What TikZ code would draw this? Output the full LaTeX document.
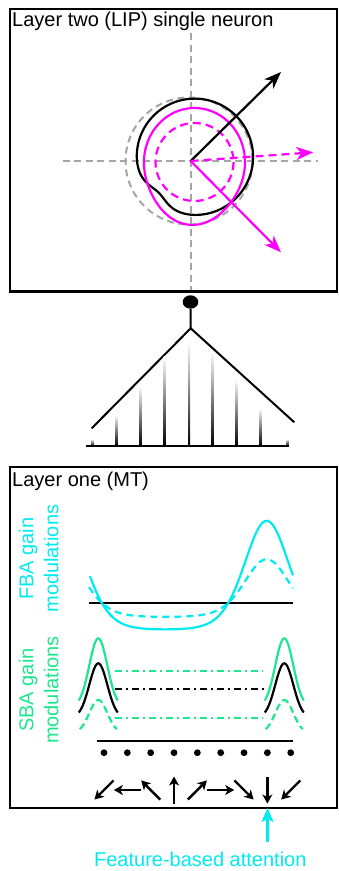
\documentclass[tikz,border=0pt]{standalone}
\usepackage{fontspec}
\setmainfont{Liberation Sans}
\usetikzlibrary{arrows.meta,shapes.geometric}
\definecolor{Magenta}{HTML}{FF00FF}
\definecolor{Cyan}{HTML}{00EBF0}
\definecolor{Mint}{HTML}{1EE68C}
\definecolor{Grey}{HTML}{A5A5A5}
\tikzset{
  panel/.style={draw=black, line width=2.4pt},
  curve/.style={line width=2.2pt},
  axisline/.style={draw=Grey, line width=2pt, dash pattern=on 7pt off 4.5pt},
  bigarr/.style={-{Stealth[length=17pt,width=13pt,inset=5pt]}, line width=2.2pt},
  dirarr/.style={-{Stealth[length=9pt,width=10pt,inset=2.5pt]}, line width=2.4pt},
  attnarr/.style={-{Stealth[length=14pt,width=12pt,inset=3pt]}, line width=2.2pt},
  dashdot/.style={line width=2pt, dash pattern=on 7pt off 4pt on 2pt off 4pt},
  soma/.style={ellipse, fill=black, minimum width=15.6pt, minimum height=13.4pt, inner sep=0pt},
  txt/.style={inner sep=0pt, font=\fontsize{20}{25}\selectfont},
  declare function={
    rblack(\a)=58+6*cos(\a-45)-7*exp(-min(0.5*((\a-225)/15)^2,20));
    rpink(\a)=50.5*54/sqrt((54*cos(\a))^2+(50.5*sin(\a))^2)+9*exp(-min(0.5*((\a-265)/27)^2,20));
    fgain(\x)=exp(2.2*(cos((\x-266.7)/203.3*360)-1));
    bump(\d)=exp(-0.5*(\d/9)^2);
  }
}
\begin{document}
\begin{tikzpicture}[x=1pt,y=-1pt]
\useasboundingbox (0,0) rectangle (338,871);
% layer two
\draw[panel] (10,9) rectangle (337,291.5);
\node[txt, anchor=base west] (lip) at (12,26.7) {Layer two (LIP) single neuron};
\coordinate (o) at (190.7,161);
\draw[axisline] (62.7,161) -- (318,161);
\draw[axisline] (190.7,33) -- (190.7,290);
\draw[axisline] (189,161) circle[radius=63.5];
\draw[curve] plot[smooth cycle, domain=0:355, samples=72] ({190.7+rblack(\x)*cos(\x)},{161-rblack(\x)*sin(\x)});
\draw[curve, Magenta] plot[smooth cycle, domain=0:355, samples=72] ({194.5+rpink(\x)*cos(\x)},{162-rpink(\x)*sin(\x)});
\draw[curve, Magenta, dash pattern=on 8pt off 5pt] (194.5,162) circle[radius=39];
\coordinate (pref) at (281,72);
\coordinate (pinkpref) at (281,252.3);
\coordinate (pinkbase) at (313.3,152.3);
\draw[bigarr] (o) -- (pref);
\draw[bigarr, Magenta] (o) -- (pinkpref);
\draw[bigarr, Magenta, dash pattern=on 8pt off 5pt] (o) -- (pinkbase);
% pooling
\node[soma] (cell) at (190.5,302) {};
\coordinate (apex) at (190.7,328.3);
\coordinate (lefttip) at (91.7,428.3);
\coordinate (righttip) at (294.3,422.3);
\draw[line width=2pt] (cell.south) -- (apex);
\draw[line width=2pt] (lefttip) -- (apex) -- (righttip);
\foreach \x/\t in {92.7/439,116.7/415,140.7/385.7,164.7/356.7,189/341.7,212.7/351.7,236.7/379,260.7/408,287.3/439}{
  \shade[top color=white, middle color=black, bottom color=black] (\x-1,\t) rectangle (\x+1,445.7);
}
\draw[line width=1.6pt] (86,445.7) -- (289.3,445.7);
% layer one
\draw[panel] (10,466.7) rectangle (337,808);
\node[txt, anchor=base west] (mt) at (12,486.7) {Layer one (MT)};
\node[txt, Cyan, rotate=90, align=center] (fba) at (38.7,558.7) {FBA gain\\modulations};
\node[txt, Mint, rotate=90, align=center] (sba) at (38.7,690) {SBA gain\\modulations};
\draw[curve] (89,602.7) -- (293,602.7);
\draw[curve, Cyan] plot[smooth, domain=90:293, samples=81] (\x,{630.7-110*fgain(\x)});
\draw[curve, Cyan, dash pattern=on 7pt off 5pt] plot[smooth, domain=89:293, samples=81] (\x,{617.5-58.3*fgain(\x)});
\foreach \c in {98.3,284.3}{
  \draw[curve, Mint] plot[smooth, domain=-19.5:19.5, samples=31] ({\c+\x},{707-68.7*bump(\x)});
  \draw[curve] plot[smooth, domain=-19.5:19.5, samples=31] ({\c+\x},{717.7-54.4*bump(\x)});
  \draw[curve, Mint, dash pattern=on 7pt off 4pt] plot[smooth, domain=-18.5:18.5, samples=31] ({\c+\x},{733.1-33.1*bump(\x)});
}
\draw[dashdot, Mint] (115,671) -- (263.3,671);
\draw[dashdot] (115,689.3) -- (265,689.3);
\draw[dashdot, Mint] (115,717.7) -- (263.3,717.7);
\draw[line width=2pt] (97.3,740.5) -- (293.3,740.5);
\foreach \i/\a in {0/225,1/180,2/135,3/90,4/45,5/0,6/-45,7/-90,8/-135}{
  \fill ({104+23.34*\i},752.7) circle[radius=3.4];
  \draw[dirarr, shift={({104+23.34*\i},790)}] (180-\a:13.5) -- (-\a:13.5);
}
% attention
\coordinate (fbatarget) at (267.5,808);
\coordinate (attnfoot) at (267.5,841.7);
\node[txt, Cyan, anchor=base] (attn) at (200.3,866.7) {Feature-based attention};
\draw[attnarr, Cyan] (attnfoot) -- (fbatarget);
\end{tikzpicture}
\end{document}
